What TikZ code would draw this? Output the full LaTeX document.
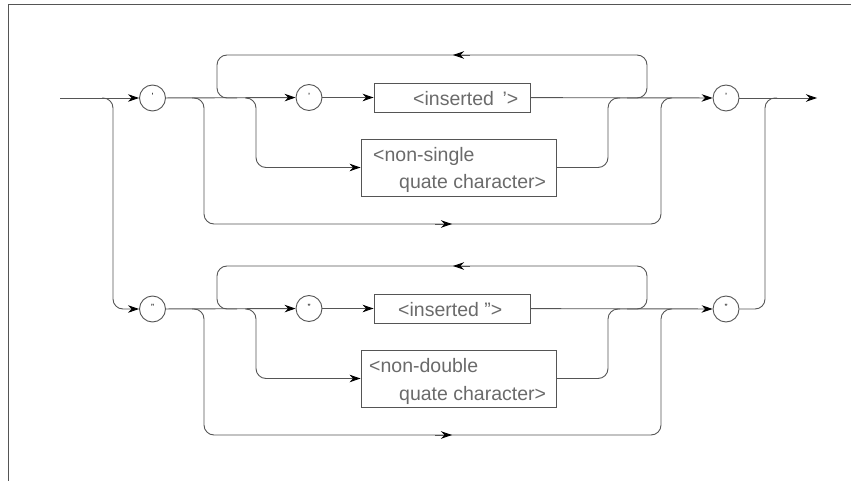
\documentclass[tikz,border=0pt]{standalone}
\usepackage{fontspec}
\setmainfont{Liberation Sans}
\usetikzlibrary{arrows.meta}
\definecolor{ln}{HTML}{555555}
\definecolor{tx}{HTML}{6A6A6A}
\begin{document}
\begin{tikzpicture}[x=1pt,y=-1pt,
  line/.style={draw=ln, line width=0.9pt, rounded corners=10pt},
  arr/.style={line, -{Stealth[length=11pt,width=7.5pt,color=black]}},
  term/.style={circle, draw=ln, line width=0.9pt, minimum size=26pt, inner sep=0pt, font=\fontsize{9}{9}\selectfont, text=black},
  box/.style={rectangle, draw=ln, line width=0.9pt, inner sep=0pt},
  lbl/.style={anchor=base west, inner sep=0pt, text=tx, font=\fontsize{19.5}{20}\selectfont}]
\useasboundingbox (0,0) rectangle (851,481);
\draw[ln, line width=0.9pt] (8,481) -- (8,4) -- (851,4);

% upper track
\coordinate (s1) at (60,98);
\coordinate (t1) at (817,98);
\node[term] (c1) at (152.5,98) {\raisebox{3pt}{'}};
\node[term] (q1) at (309,97.5) {\raisebox{3pt}{'}};
\node[term] (e1) at (726,98) {\raisebox{3pt}{'}};
\node[box, minimum width=156pt, minimum height=29pt] (i1) at (452,97.5) {};
\node[box, minimum width=195pt, minimum height=57pt] (n1) at (458.5,167.5) {};
\node[lbl] (ti1) at (413,105.7) {<inserted \,'>};
\node[lbl] (tn1a) at (373,161.7) {<non-single};
\node[lbl] (tn1b) at (399,189) {quate character>};

% lower track
\node[term] (c2) at (152.5,309) {\raisebox{3pt}{\symbol{34}}};
\node[term] (q2) at (309,308.5) {\raisebox{3pt}{\symbol{34}}};
\node[term] (e2) at (726,309) {\raisebox{3pt}{\symbol{34}}};
\node[box, minimum width=156pt, minimum height=29pt] (i2) at (452,308.5) {};
\node[box, minimum width=195pt, minimum height=57pt] (n2) at (458.5,378.5) {};
\node[lbl] (ti2) at (398,316.7) {<inserted \symbol{34}>};
\node[lbl] (tn2a) at (369,372.7) {<non-double};
\node[lbl] (tn2b) at (399,400) {quate character>};

% upper connectors
\draw[arr] (s1) -- (c1);
\draw[arr] (102,98) -| (113,309) -- (c2);
\draw[arr] (c1) -- (q1);
\draw[arr] (q1) -- (i1);
\draw[arr] (i1) -- (e1);
\draw[arr] (e1) -- (t1);
\draw[line] (237,98) -| (217,55) -| (647,98) -- (627,98);
\draw[arr] (470,55) -- (453,55);
\draw[arr] (245,98) -| (256,167.5) -- (n1.west);
\draw[line] (n1.east) -| (608,98) -- (620,98);
\draw[line] (192,98) -| (204,224) -| (661,98) -- (672,98);
\draw[arr] (435,224) -- (452,224);
\draw[line] (e2.east) -| (765,98) -- (777,98);

% lower connectors
\draw[arr] (c2) -- (q2);
\draw[arr] (q2) -- (i2);
\draw[arr] (i2) -- (e2);
\draw[line] (237,309) -| (217,266) -| (647,309) -- (627,309);
\draw[arr] (470,266) -- (453,266);
\draw[arr] (245,309) -| (256,378.5) -- (n2.west);
\draw[line] (n2.east) -| (608,309) -- (620,309);
\draw[line] (192,309) -| (204,435) -| (661,309) -- (672,309);
\draw[arr] (435,435) -- (452,435);
\end{tikzpicture}
\end{document}
